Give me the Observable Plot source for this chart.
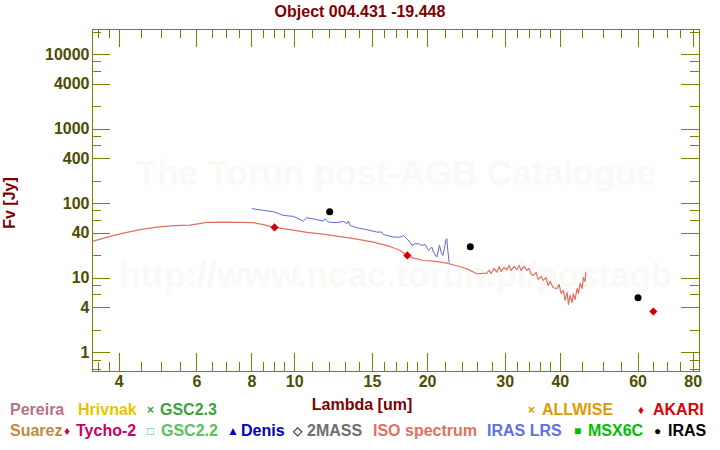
<!DOCTYPE html>
<html><head><meta charset="utf-8">
<script src="https://cdn.jsdelivr.net/npm/d3@7"></script>
<script src="https://cdn.jsdelivr.net/npm/@observablehq/plot@0.6"></script>
<style>
body{margin:0;background:#fff;}
#wrap{position:relative;width:720px;height:450px;font-family:"Liberation Sans",Arial,sans-serif;font-weight:bold;font-size:16px;}
.t{position:absolute;white-space:nowrap;line-height:16px;}
.sym{font-size:12px;}
</style></head><body><div id="wrap"></div>
<script>
// ---- data ----
const titleText = "Object 004.431 -19.448";
const xLabel = "Lambda [um]";
const yLabel = "Fv [Jy]";
const watermark1 = "The Torun post-AGB Catalogue";
const watermark2 = "http://www.ncac.torun.pl/postagb";

const isoWavelength = [3.48,3.81,4.09,4.46,4.87,5.31,5.79,6.32,6.89,7.52,8.06,8.49,8.98,9.76,10.65,11.61,12.67,13.82,15.08,16.45,17.33,18.0,18.57,19.57,20.62,22.12,23.29,24.55,25.86,
  27.25,27.58,27.87,28.31,28.71,29.07,29.37,29.83,30.25,30.62,30.94,31.44,31.87,32.27,32.61,33.11,33.58,33.99,34.35,34.76,35.26,35.63,36.19,36.62,37.12,37.52,37.93,38.51,39.28,39.74,40.16,40.65,41.0,41.44,41.73,42.1,42.54,42.82,43.21,43.66,43.97,44.36,44.82,45.11,45.52,45.69];
const isoFlux = [31.2,36.4,40.3,44.8,48.5,50.7,51.6,56.1,56.6,56.1,55.6,52.3,48.1,44.8,41.2,39.1,36.1,33.5,30.5,26.7,23.6,20.2,18.6,17.3,16.96,15.95,14.7,13.4,11.49,
  11.71,12.72,11.6,13.54,12.07,14.4,12.34,13.96,13.0,14.85,12.72,14.4,13.0,14.85,12.72,14.4,12.72,13.54,11.25,10.9,11.96,9.64,10.57,9.34,10.25,8.01,9.06,7.52,7.23,8.26,6.25,6.86,5.04,6.45,4.45,5.88,4.73,6.19,5.19,7.3,6.25,8.52,7.3,10.25,9.06,11.96];

const lrsWavelength = [8.015,8.49,8.94,9.42,9.93,10.46,10.65,11.22,11.61,11.71,11.92,12.45,12.89,13.12,13.23,13.35,13.82,14.57,15.35,15.75,15.88,16.17,16.74,17.33,17.63,17.95,18.26,18.42,18.74,19.07,19.41,19.75,20.09,20.45,20.62,20.99,21.28,21.47,21.66,21.84,22.0,22.12,22.23,22.39];
const lrsFlux = [85.7,81.3,78.1,69.7,67.5,58.4,64.9,61.0,58.4,62.9,56.6,55.6,57.9,53.9,58.4,51.1,47.6,44.8,41.6,41.6,38.7,37.5,35.6,35.6,37.5,33.9,30.5,27.6,29.0,29.0,27.6,28.4,23.6,26.2,22.4,19.2,27.6,22.4,20.2,24.9,32.2,33.9,23.6,16.45];

const akariWavelength = [9, 18, 65];
const akariFlux = [48.1, 20.2, 3.58];
const irasWavelength = [12, 25, 60];
const irasFlux = [78.1, 26.5, 5.47];

const xTickMajor = [4,6,8,10,15,20,30,40,60,80];
const xTickMinor = [3.6,3.8,4.5,5,5.5,6.5,7,7.5,8.5,9,9.5,11,12,13,14,16,17,18,19,22,24,26,28,32,34,36,38,45,50,55,65,70,75];
const yTickMajor = [1,4,10,40,100,400,1000,4000,10000];
const yTickMinor = [0.6,0.8,2,6,8,20,60,80,200,600,800,2000,6000,8000,20000];

const legendRow1 = ["Pereira","Hrivnak","GSC2.3","ALLWISE","AKARI"];
const legendRow1Symbols = ["","","×","×","♦"];
const legendRow1Colors = ["#b87080","#e8c400","#40a040","#e09a00","#dd0000"];
const legendRow2 = ["Suarez","Tycho-2","GSC2.2","Denis","2MASS","ISO spectrum","IRAS LRS","MSX6C","IRAS"];
const legendRow2Symbols = ["","♦","□","▲","◇","","","■","●"];
const legendRow2Colors = ["#c08a40","#cc0066","#5cc05c","#0000c0","#6e6e6e","#e07060","#6070e0","#00c000","#000000"];
const legendRow2SymbolColors = ["","#cc0066","#5cc05c","#0000c0","#333333","","","#00c000","#000000"];

// ---- layout ----
const W = 720, H = 450, mL = 92, mR = 21, mT = 29, mB = 79;
const fw = W - mL - mR, fh = H - mT - mB;
const axisColor = "#808000", labelColor = "#4d4d00", titleColor = "#800000";

const iso = isoWavelength.map((w,i)=>({w, f: isoFlux[i]}));
const lrs = lrsWavelength.map((w,i)=>({w, f: lrsFlux[i]}));
const akari = akariWavelength.map((w,i)=>({w, f: akariFlux[i]}));
const iras = irasWavelength.map((w,i)=>({w, f: irasFlux[i]}));

const plot = Plot.plot({
  width: W, height: H,
  marginLeft: mL, marginRight: mR, marginTop: mT, marginBottom: mB,
  x: {type: "log", domain: [3.48, 82.7], axis: null},
  y: {type: "log", domain: [0.5616, 21660], axis: null},
  style: {background: "transparent", fontFamily: "'Liberation Sans', Arial, sans-serif", fontWeight: "bold", fontSize: "16px"},
  marks: [
    Plot.text([watermark1], {frameAnchor: "top", dy: 131, fill: "#faf9f6", fontSize: 35, fontWeight: "bold"}),
    Plot.text([watermark2], {frameAnchor: "top", dy: 233, fill: "#faf9f6", fontSize: 35, fontWeight: "bold"}),
    Plot.line(iso, {x: "w", y: "f", stroke: "#e07060", strokeWidth: 1.2, clip: true}),
    Plot.line(lrs, {x: "w", y: "f", stroke: "#5a6ad8", strokeWidth: 1, clip: true}),
    Plot.dot(akari, {x: "w", y: "f", symbol: "diamond2", r: 3.7, fill: "#d00000", stroke: "none"}),
    Plot.dot(iras, {x: "w", y: "f", r: 3.5, fill: "#000", stroke: "none"}),
    Plot.ruleX(xTickMajor, {insetTop: fh - 18, stroke: axisColor, shapeRendering: "crispEdges"}),
    Plot.ruleX(xTickMinor, {insetTop: fh - 9, stroke: axisColor, shapeRendering: "crispEdges"}),
    Plot.ruleX(xTickMajor, {insetBottom: fh - 18, stroke: axisColor, shapeRendering: "crispEdges"}),
    Plot.ruleX(xTickMinor, {insetBottom: fh - 9, stroke: axisColor, shapeRendering: "crispEdges"}),
    Plot.ruleY(yTickMajor, {insetRight: fw - 18, stroke: axisColor, shapeRendering: "crispEdges"}),
    Plot.ruleY(yTickMinor, {insetRight: fw - 9, stroke: axisColor, shapeRendering: "crispEdges"}),
    Plot.ruleY(yTickMajor, {insetLeft: fw - 18, stroke: axisColor, shapeRendering: "crispEdges"}),
    Plot.ruleY(yTickMinor, {insetLeft: fw - 9, stroke: axisColor, shapeRendering: "crispEdges"}),
    Plot.frame({stroke: axisColor, shapeRendering: "crispEdges"}),
    Plot.text(xTickMajor, {x: d => d, text: d => String(d), frameAnchor: "bottom", lineAnchor: "top", dy: 4, fill: labelColor, fontSize: 16, fontWeight: "bold"}),
    Plot.text(yTickMajor, {y: d => d, text: d => String(d), frameAnchor: "left", textAnchor: "end", dx: -3, fill: labelColor, fontSize: 16, fontWeight: "bold"})
  ]
});

const wrap = document.getElementById("wrap");
plot.style.position = "absolute";
plot.style.left = "0px";
plot.style.top = "0px";
wrap.appendChild(plot);

function addText(txt, color, left, centerY, cls) {
  const s = document.createElement("div");
  s.className = "t" + (cls ? " " + cls : "");
  s.textContent = txt;
  s.style.color = color;
  s.style.left = left + "px";
  s.style.top = (centerY - 8) + "px";
  wrap.appendChild(s);
  return s;
}
function addCentered(txt, color, cx, cy) {
  const s = addText(txt, color, 0, cy);
  s.style.left = cx + "px";
  s.style.transform = "translateX(-50%)";
  return s;
}
addCentered(titleText, titleColor, 360, 12);
addCentered(xLabel, titleColor, 362, 405);
const yl = addText(yLabel, titleColor, 0, 203);
yl.style.left = "10px";
yl.style.transform = "translateX(-50%) rotate(-90deg)";

// legend layout (positions)
const row1TextX = [10, 78, 160, 542, 653];
const row1SymX = [0, 0, 147, 528, 638];
const row2TextX = [10, 76, 161, 241, 307, 373, 487, 588, 668];
const row2SymX = [0, 64, 147, 227, 293, 0, 0, 574, 654];
const row1Y = 410, row2Y = 431;
legendRow1.forEach((t, i) => {
  if (legendRow1Symbols[i]) addText(legendRow1Symbols[i], legendRow1Colors[i], row1SymX[i], row1Y, "sym");
  addText(t, legendRow1Colors[i], row1TextX[i], row1Y);
});
legendRow2.forEach((t, i) => {
  if (legendRow2Symbols[i]) addText(legendRow2Symbols[i], legendRow2SymbolColors[i], row2SymX[i], row2Y, "sym");
  addText(t, legendRow2Colors[i], row2TextX[i], row2Y);
});
</script></body></html>
